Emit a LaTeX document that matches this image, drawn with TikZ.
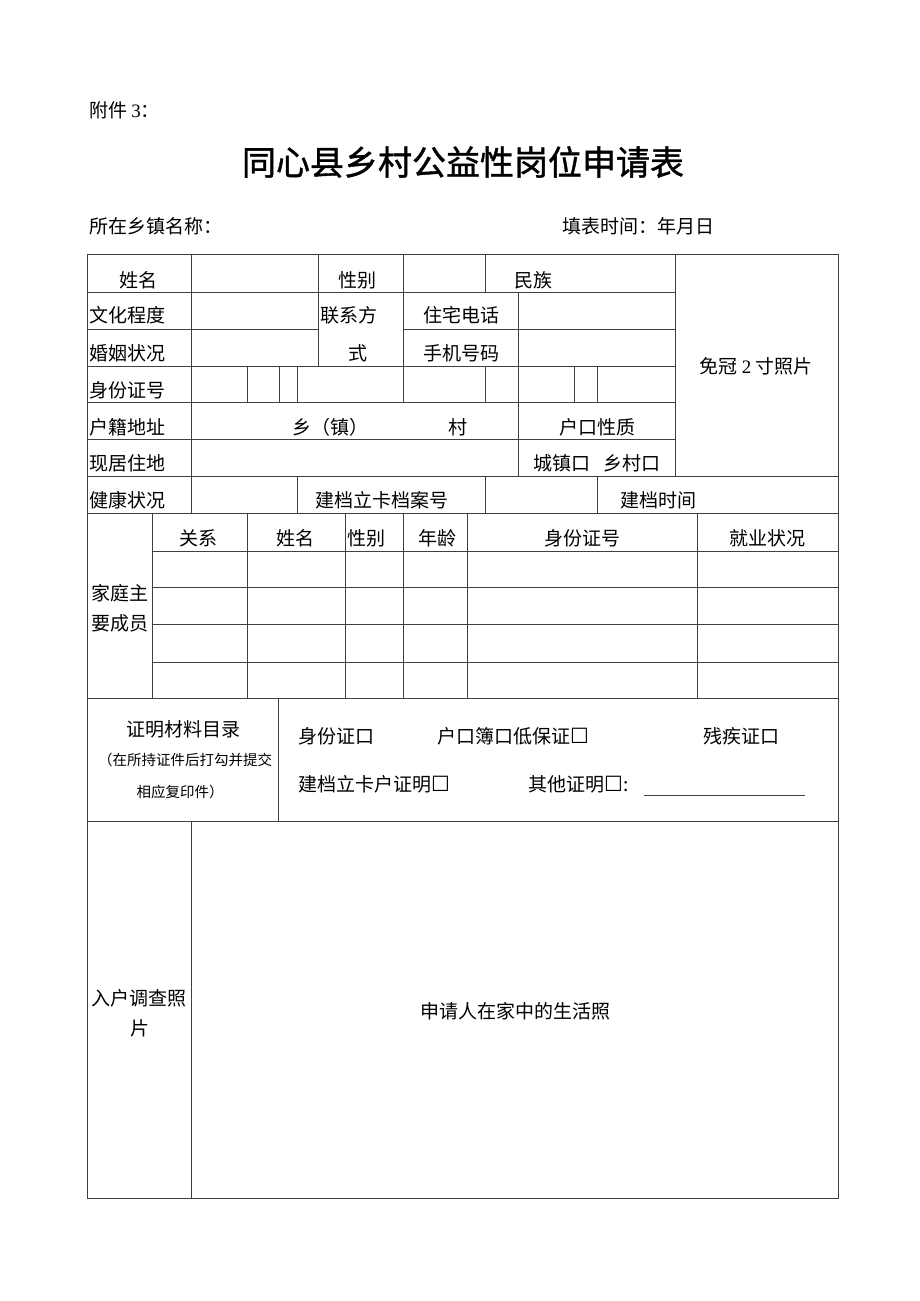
\documentclass[tikz,border=0pt]{standalone}
\usepackage{fontspec}
\setmainfont{Noto Sans CJK SC}
\newfontfamily\titlef[FakeBold=1.2]{Noto Sans CJK SC}
\newfontfamily\symf{DejaVu Sans}
\newfontfamily\latf{Liberation Serif}
\newcommand\bxx{{\symf\fontsize{21}{21}\selectfont ☐}}
\tikzset{
  grid/.style={draw=black!75, line width=0.9pt},
  txt/.style={inner sep=0pt, font=\fontsize{19}{21}\selectfont},
  lt/.style={txt, anchor=west},
  smalltxt/.style={inner sep=0pt, font=\fontsize{14.5}{16}\selectfont},
}
\begin{document}
\begin{tikzpicture}[x=1pt,y=-1pt]
\useasboundingbox (0,0) rectangle (920,1301);
\fill[white] (0,0) rectangle (920,1301);

% header
\node[lt] (fj) at (89,110) {附件 {\latf 3}：};
\node[inner sep=0pt, font=\titlef\fontsize{34}{36}\selectfont] (title) at (463,162) {同心县乡村公益性岗位申请表};
\node[lt] (xz) at (89,226) {所在乡镇名称：};
\node[lt] (tb) at (562,226) {填表时间：年月日};

% outer frame
\draw[grid] (87,254) rectangle (838,1198);

% horizontal lines
\draw[grid] (87,292) -- (675,292);
\draw[grid] (87,329) -- (318,329);
\draw[grid] (403,329) -- (675,329);
\draw[grid] (87,366) -- (675,366);
\draw[grid] (87,402) -- (675,402);
\draw[grid] (87,439) -- (675,439);
\draw[grid] (87,476) -- (838,476);
\draw[grid] (87,513) -- (838,513);
\foreach \y in {551,587,624,662} \draw[grid] (152,\y) -- (838,\y);
\draw[grid] (87,698) -- (838,698);
\draw[grid] (87,821) -- (838,821);

% vertical lines - personal info
\draw[grid] (191,254) -- (191,513);
\draw[grid] (318,254) -- (318,366);
\draw[grid] (403,254) -- (403,402);
\draw[grid] (485,254) -- (485,292);
\draw[grid] (485,366) -- (485,402);
\draw[grid] (485,476) -- (485,513);
\draw[grid] (518,292) -- (518,476);
\draw[grid] (675,254) -- (675,476);
\foreach \x in {247,279,297,574,597} \draw[grid] (\x,366) -- (\x,402);
\draw[grid] (297,476) -- (297,513);
\draw[grid] (597,476) -- (597,513);

% vertical lines - family
\foreach \x in {152,247,345,403,467,697} \draw[grid] (\x,513) -- (\x,698);

% proof + photo
\draw[grid] (278,698) -- (278,821);
\draw[grid] (191,821) -- (191,1198);

% row texts
\node[txt] (xm) at (138,280) {姓名};
\node[txt] (xb) at (357,280) {性别};
\node[txt] (mz) at (533,280) {民族};
\node[lt] (wh) at (89,315) {文化程度};
\node[lt] (lx1) at (320,315) {联系方};
\node[txt] (lx2) at (358,353) {式};
\node[txt] (zz) at (461,315) {住宅电话};
\node[lt] (hy) at (89,353) {婚姻状况};
\node[txt] (sj) at (461,353) {手机号码};
\node[lt] (sf) at (89,390) {身份证号};
\node[lt] (hj) at (89,427) {户籍地址};
\node[txt] (xiang) at (330,427) {乡（镇）};
\node[txt] (cun) at (458,427) {村};
\node[txt] (hk) at (597,427) {户口性质};
\node[lt] (xj) at (89,463) {现居住地};
\node[txt] (cz) at (597,463) {城镇口\hspace{14pt}乡村口};
\node[lt] (jk) at (89,500) {健康状况};
\node[txt] (da) at (382,500) {建档立卡档案号};
\node[txt] (sj2) at (658,500) {建档时间};
\node[txt] (photo) at (756,366) {免冠 {\latf 2} 寸照片};

% family
\node[txt] (gx) at (198,538) {关系};
\node[txt] (fxm) at (295,538) {姓名};
\node[txt] (fxb) at (366,538) {性别};
\node[txt] (nl) at (437,538) {年龄};
\node[txt] (fsf) at (582,538) {身份证号};
\node[txt] (jy) at (767,538) {就业状况};
\node[txt] (jt1) at (120,593) {家庭主};
\node[txt] (jt2) at (120,623) {要成员};

% proof materials
\node[txt] (zm) at (183,729) {证明材料目录};
\node[smalltxt] (zm2) at (185,760) {（在所持证件后打勾并提交};
\node[smalltxt] (zm3) at (180,792) {相应复印件）};
\node[lt] (p1) at (298,736) {身份证口};
\node[lt] (p2) at (437,736) {户口簿口低保证\bxx};
\node[lt] (p3) at (703,736) {残疾证口};
\node[lt] (p4) at (298,784) {建档立卡户证明\bxx};
\node[lt] (p5) at (528,784) {其他证明\bxx:};
\coordinate (ul1) at (644,795);
\coordinate (ul2) at (805,795);
\draw[draw=black!75, line width=0.8pt] (ul1) -- (ul2);

% photo section
\node[txt] (rh1) at (139,998) {入户调查照};
\node[txt] (rh2) at (140,1028) {片};
\node[txt] (sq) at (515,1011) {申请人在家中的生活照};
\end{tikzpicture}
\end{document}
